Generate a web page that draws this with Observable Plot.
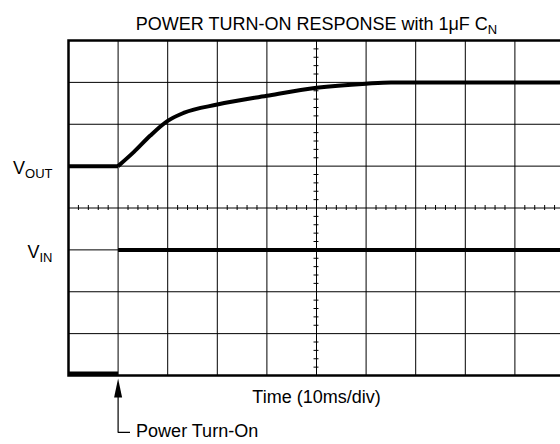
<!DOCTYPE html>
<html>
<head>
<meta charset="utf-8">
<script src="https://cdn.jsdelivr.net/npm/d3@7"></script>
<script src="https://cdn.jsdelivr.net/npm/@observablehq/plot@0.6"></script>
<style>
  html, body { margin: 0; padding: 0; background: #fff; }
  #chart svg { display: block; }
</style>
</head>
<body>
<div id="chart"></div>
<script>
// ---- data (divisions) ----
const title = "POWER TURN-ON RESPONSE with 1\u03BCF C_N";
const xLabel = "Time (10ms/div)";
const eventLabel = "Power Turn-On";
const eventTime = 1;

const gridX = d3.range(0, 11);          // 10 horizontal divisions
const gridY = d3.range(0, 9);           // 8 vertical divisions

const voutTime  = [0, 1, 1.32, 1.65, 2.0, 2.32, 3.0, 4.0, 5.0, 6.0, 6.5, 10];
const voutLevel = [5, 5, 5.34, 5.73, 6.08, 6.27, 6.47, 6.68, 6.87, 6.97, 7.0, 7.0];

const vinTime  = [0, 1, 1, 10];
const vinLevel = [0.05, 0.05, 3, 3];
const vinState = ["off", "off", "on", "on"];

const traceNames  = ["V_OUT", "V_IN"];
const traceLevels = [5, 3];

// ---- derived tables ----
const vout = [];
voutTime.forEach((t, i) => {
  if (t <= eventTime) vout.push({t, v: voutLevel[i], seg: "flat"});
  if (t >= eventTime) vout.push({t, v: voutLevel[i], seg: "rise"});
});
const vin = vinTime.map((t, i) => ({t, v: vinLevel[i], seg: vinState[i]}));
const labels = traceNames.map((name, i) => ({name, v: traceLevels[i]}));

const minorX = d3.range(1, 50).map(i => i / 5).filter(d => !Number.isInteger(d));
const minorY = d3.range(1, 40).map(i => i / 5).filter(d => !Number.isInteger(d));

// custom slender filled triangle (tip at origin, pointing up)
const arrowHead = {
  draw(ctx) {
    ctx.moveTo(0, 0);
    ctx.lineTo(4, 19);
    ctx.lineTo(-4, 19);
    ctx.closePath();
  }
};

const chart = Plot.plot({
  width: 560,
  height: 444,
  marginTop: 40,
  marginBottom: 69,
  marginLeft: 68,
  marginRight: -4,
  x: {domain: [0, 10], axis: null},
  y: {domain: [0, 8], axis: null},
  style: {fontFamily: "'Liberation Sans', Arial, Helvetica, sans-serif", fontSize: "18px", background: "#fff", color: "#000"},
  marks: [
    Plot.ruleX(gridX, {stroke: "#000", strokeWidth: 1}),
    Plot.ruleY(gridY, {stroke: "#000", strokeWidth: 1}),
    Plot.ruleY(minorY, {y: d => d, x1: 5 - 0.05, x2: 5 + 0.05, stroke: "#000", strokeWidth: 1}),
    Plot.ruleX(minorX, {x: d => d, y1: 4 - 0.06, y2: 4 + 0.06, stroke: "#000", strokeWidth: 1}),
    Plot.frame({stroke: "#000", strokeWidth: 2.5}),
    Plot.line(vout, {x: "t", y: "v", z: "seg", curve: "monotone-x", stroke: "#000", strokeWidth: 4, strokeLinecap: "butt"}),
    Plot.line(vin, {x: "t", y: "v", z: "seg", stroke: "#000", strokeWidth: 4, strokeLinecap: "butt"}),
    Plot.text(labels, {x: 0, y: "v", text: "name", textAnchor: "end", dx: -16, dy: 2.5, fontSize: 18, fill: "#000"}),
    Plot.text([title], {x: 5, frameAnchor: "top", dy: -23, text: d => d, fontSize: 18, fill: "#000"}),
    Plot.text([xLabel], {x: 5, frameAnchor: "bottom", dy: 27.5, text: d => d, fontSize: 18, fill: "#000"}),
    // event annotation
    Plot.dot([eventTime], {x: d => d, y: -0.07, symbol: arrowHead, fill: "#000", stroke: "none"}),
    Plot.line([{t: eventTime, v: -0.45}, {t: eventTime, v: -1.36}, {t: eventTime + 0.24, v: -1.36}],
      {x: "t", y: "v", stroke: "#000", strokeWidth: 1.2, strokeLinecap: "butt", strokeLinejoin: "miter"}),
    Plot.text([eventLabel], {x: eventTime, y: -1.36, dx: 18, dy: -1, textAnchor: "start", text: d => d, fontSize: 18, fill: "#000"})
  ]
});

// subscripts: "X_sub" -> X + smaller lowered tspan
d3.select(chart).selectAll("text").each(function() {
  const el = d3.select(this);
  const s = this.textContent;
  if (!s.includes("_")) return;
  const [main, sub] = s.split("_");
  el.text(main);
  el.append("tspan").attr("font-size", 13).attr("dy", 4).text(sub);
});

document.getElementById("chart").appendChild(chart);
</script>
</body>
</html>
